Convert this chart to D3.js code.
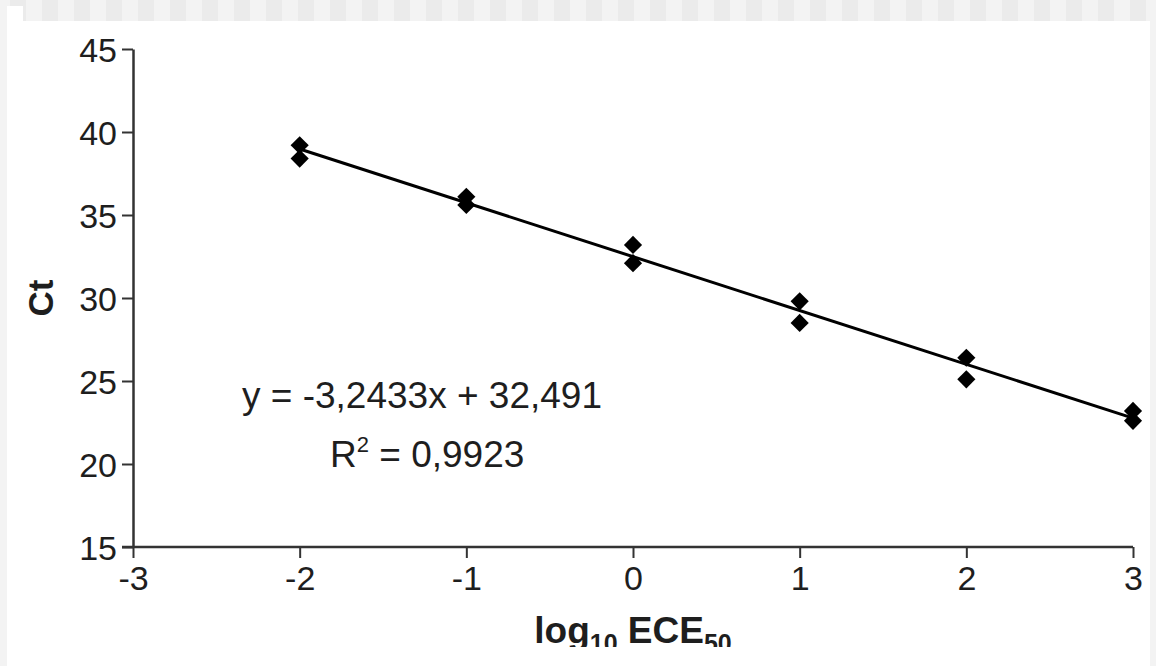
<!DOCTYPE html>
<html>
<head>
<meta charset="utf-8">
<script src="https://cdn.jsdelivr.net/npm/d3@7"></script>
<style>
  html, body { margin: 0; padding: 0; background: #f3f3f3; }
  svg { display: block; }
</style>
</head>
<body>
<svg id="chart" width="1156" height="666"></svg>
<script>
// data
const xTicks = [-3, -2, -1, 0, 1, 2, 3];
const yTicks = [15, 20, 25, 30, 35, 40, 45];
const dilution = [-2, -2, -1, -1, 0, 0, 1, 1, 2, 2, 3, 3];
const ctValues = [39.2, 38.4, 36.1, 35.6, 33.2, 32.1, 29.8, 28.5, 26.4, 25.1, 23.2, 22.6];
const slope = -3.2433;
const intercept = 32.491;
const fitRange = [-2, 3];
const eqText = "y = -3,2433x + 32,491";
const r2Text = "0,9923";

const width = 1156;
const height = 666;
const fontFamily = "Liberation Sans, Arial, Helvetica, sans-serif";
const ink = "#1e1e1e";

const svg = d3.select("#chart").style("font-family", fontFamily);

// page background: grey frame with a striped band on top
svg.append("rect").attr("width", width).attr("height", height).attr("fill", "#f3f3f3");
svg.append("g")
  .selectAll("rect")
  .data(d3.range(10, width, 32))
  .join("rect")
  .attr("x", (d) => d)
  .attr("y", 0)
  .attr("width", 16)
  .attr("height", 21)
  .attr("fill", "#ebebeb");
svg.append("rect").attr("x", 7).attr("y", 21).attr("width", 1143).attr("height", height - 21).attr("fill", "#fff");
svg.append("rect").attr("x", 7).attr("y", 6).attr("width", 16).attr("height", 16).attr("fill", "#fff");

// scales
const x = d3.scaleLinear().domain([-3, 3]).range([133, 1133]);
const y = d3.scaleLinear().domain([15, 45]).range([547, 49]);

// axes
const xAxis = svg.append("g")
  .attr("transform", `translate(0,${y(15)})`)
  .call(d3.axisBottom(x).tickValues(xTicks).tickFormat((d) => String(d))
    .tickSize(11).tickPadding(8).tickSizeOuter(0));
const yAxis = svg.append("g")
  .attr("transform", `translate(${x(-3)},0)`)
  .call(d3.axisLeft(y).tickValues(yTicks).tickFormat((d) => String(d))
    .tickSize(11).tickPadding(5).tickSizeOuter(0));

[xAxis, yAxis].forEach((g) => {
  g.select(".domain").attr("stroke", "#333").attr("stroke-width", 2.5);
  g.selectAll(".tick line").attr("stroke", "#333").attr("stroke-width", 2);
  g.selectAll(".tick text")
    .attr("fill", ink)
    .style("font-family", fontFamily)
    .style("font-size", "34px");
});
// the x axis line continues to the left under the y ticks
xAxis.select(".domain").attr("d", `M${x(-3) - 11},0H${x(3)}`);
xAxis.selectAll(".tick text").attr("dy", "0.71em");
yAxis.selectAll(".tick text").attr("dy", "0.36em");

// regression line
svg.append("path")
  .datum(fitRange)
  .attr("fill", "none")
  .attr("stroke", "#000")
  .attr("stroke-width", 3)
  .attr("d", d3.line().x((d) => x(d)).y((d) => y(slope * d + intercept)));

// points as diamonds
const points = dilution.map((d, i) => ({ x: d, y: ctValues[i] }));
svg.append("g")
  .selectAll("path")
  .data(points)
  .join("path")
  .attr("d", d3.symbol(d3.symbolSquare, 165))
  .attr("transform", (d) => `translate(${x(d.x)},${y(d.y)}) rotate(45)`)
  .attr("fill", "#000");

// equation label
svg.append("text")
  .attr("x", 242)
  .attr("y", 408)
  .attr("fill", ink)
  .style("font-size", "37px")
  .text(eqText);
const r2 = svg.append("text")
  .attr("x", 330)
  .attr("y", 467)
  .attr("fill", ink)
  .style("font-size", "37px");
r2.append("tspan").text("R");
r2.append("tspan").attr("dy", -15).style("font-size", "22px").text("2");
r2.append("tspan").attr("dy", 15).text(" = " + r2Text);

// axis titles
svg.append("text")
  .attr("transform", `translate(53,${y(30)}) rotate(-90)`)
  .attr("text-anchor", "middle")
  .attr("fill", ink)
  .style("font-size", "35px")
  .style("font-weight", "bold")
  .text("Ct");

svg.append("clipPath").attr("id", "clipBottom")
  .append("rect").attr("x", 0).attr("y", 0).attr("width", width).attr("height", 647);
const xt = svg.append("text")
  .attr("clip-path", "url(#clipBottom)")
  .attr("x", x(0))
  .attr("y", 643)
  .attr("text-anchor", "middle")
  .attr("fill", ink)
  .style("font-size", "37px")
  .style("font-weight", "bold");
xt.append("tspan").text("log");
xt.append("tspan").attr("dy", 9).style("font-size", "25px").text("10");
xt.append("tspan").attr("dy", -9).text(" ECE");
xt.append("tspan").attr("dy", 9).style("font-size", "25px").text("50");
</script>
</body>
</html>
